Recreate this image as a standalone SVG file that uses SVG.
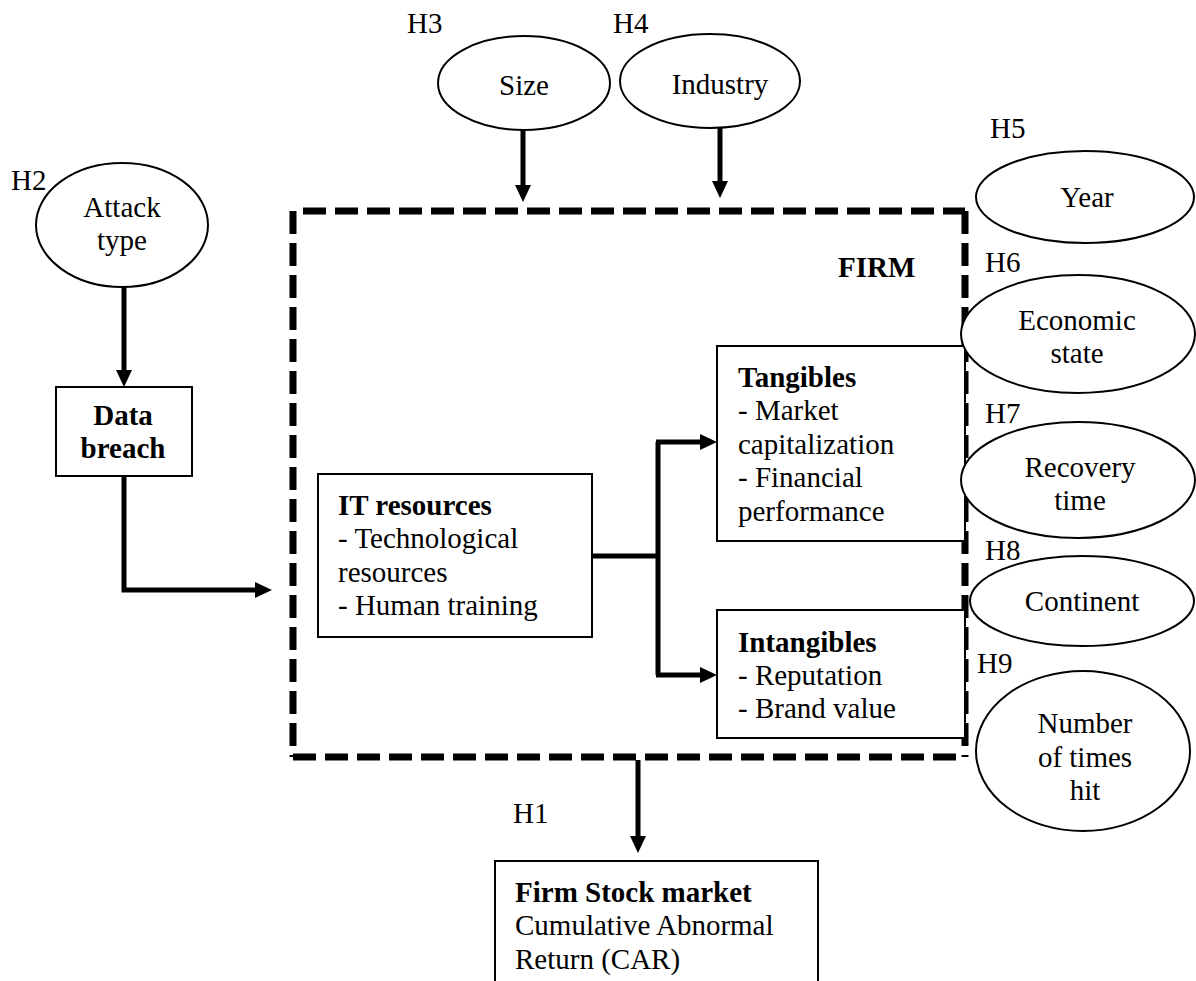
<svg xmlns="http://www.w3.org/2000/svg" width="1196" height="981" viewBox="0 0 1196 981" font-family="'Liberation Serif', 'Times New Roman', 'DejaVu Serif', serif">
<defs>
<style>
text{font-family:'Liberation Serif','Times New Roman','DejaVu Serif',serif;font-size:29px;fill:#000}
.b{font-weight:bold}
.c{text-anchor:middle}
.node{fill:#fff;stroke:#000;stroke-width:2}
.conn{fill:none;stroke:#000;stroke-width:5}
.dash{fill:none;stroke:#000;stroke-width:7;stroke-dasharray:23 9}
</style>
<marker id="ah" markerUnits="userSpaceOnUse" markerWidth="18" markerHeight="18" refX="2" refY="8" orient="auto">
<path d="M0,0 L17,8 L0,16 z" fill="#000"/>
</marker>
</defs>
<rect width="1196" height="981" fill="#fff"/>

<g id="firm-boundary">
<path class="dash" d="M293,211 V757"/>
<path class="dash" d="M303,211 H965"/>
<path class="dash" d="M965,211 V757"/>
<path class="dash" d="M293,757 H965"/>
<text x="838" y="277" class="b">FIRM</text>
</g>

<g id="attack-type">
<ellipse class="node" cx="122" cy="225" rx="86" ry="62"/>
<text x="11" y="190">H2</text>
<text x="122" y="217" class="c">Attack</text>
<text x="122" y="250" class="c">type</text>
</g>

<g id="data-breach">
<rect class="node" x="56" y="387" width="136" height="89"/>
<text x="123" y="425" class="b c">Data</text>
<text x="123" y="458" class="b c">breach</text>
</g>

<g id="size">
<ellipse class="node" cx="524" cy="83" rx="86" ry="47"/>
<text x="407" y="33">H3</text>
<text x="524" y="95" class="c">Size</text>
</g>

<g id="industry">
<ellipse class="node" cx="710" cy="81" rx="90" ry="47"/>
<text x="613" y="33">H4</text>
<text x="720" y="94" class="c">Industry</text>
</g>

<g id="it-resources">
<rect class="node" x="318" y="474" width="274" height="163"/>
<text x="338" y="515" class="b">IT resources</text>
<text x="338" y="548">- Technological</text>
<text x="338" y="582">resources</text>
<text x="338" y="615">- Human training</text>
</g>

<g id="tangibles">
<rect class="node" x="717" y="346" width="248" height="195"/>
<text x="738" y="387" class="b">Tangibles</text>
<text x="738" y="420">- Market</text>
<text x="738" y="454">capitalization</text>
<text x="738" y="487">- Financial</text>
<text x="738" y="521">performance</text>
</g>

<g id="intangibles">
<rect class="node" x="717" y="610" width="248" height="128"/>
<text x="738" y="652" class="b">Intangibles</text>
<text x="738" y="685">- Reputation</text>
<text x="738" y="718">- Brand value</text>
</g>

<g id="year">
<ellipse class="node" cx="1085" cy="197" rx="109" ry="46"/>
<text x="990" y="138">H5</text>
<text x="1087" y="207" class="c">Year</text>
</g>

<g id="economic-state">
<ellipse class="node" cx="1078" cy="334" rx="117" ry="59"/>
<text x="985" y="272">H6</text>
<text x="1077" y="330" class="c">Economic</text>
<text x="1077" y="363" class="c">state</text>
</g>

<g id="recovery-time">
<ellipse class="node" cx="1078" cy="480" rx="117" ry="58"/>
<text x="985" y="423">H7</text>
<text x="1080" y="477" class="c">Recovery</text>
<text x="1080" y="510" class="c">time</text>
</g>

<g id="continent">
<ellipse class="node" cx="1082" cy="601" rx="112" ry="45"/>
<text x="985" y="560">H8</text>
<text x="1082" y="611" class="c">Continent</text>
</g>

<g id="times-hit">
<ellipse class="node" cx="1083" cy="751" rx="107" ry="80"/>
<text x="977" y="673">H9</text>
<text x="1085" y="733" class="c">Number</text>
<text x="1085" y="767" class="c">of times</text>
<text x="1085" y="800" class="c">hit</text>
</g>

<g id="firm-stock-market">
<rect class="node" x="495" y="861" width="323" height="130"/>
<text x="513" y="823">H1</text>
<text x="515" y="902" class="b">Firm Stock market</text>
<text x="515" y="935">Cumulative Abnormal</text>
<text x="515" y="969">Return (CAR)</text>
</g>

<g id="connectors">
<path class="conn" d="M124,287 V372" marker-end="url(#ah)"/>
<path class="conn" d="M124,476 V590 H257" marker-end="url(#ah)"/>
<path class="conn" d="M523,130 V187" marker-end="url(#ah)"/>
<path class="conn" d="M720,128 V183" marker-end="url(#ah)"/>
<path class="conn" d="M592,556 H658"/>
<path class="conn" d="M658,442 V675"/>
<path class="conn" d="M656,442 H702" marker-end="url(#ah)"/>
<path class="conn" d="M656,675 H702" marker-end="url(#ah)"/>
<path class="conn" d="M638,760 V838" marker-end="url(#ah)"/>
</g>
</svg>
